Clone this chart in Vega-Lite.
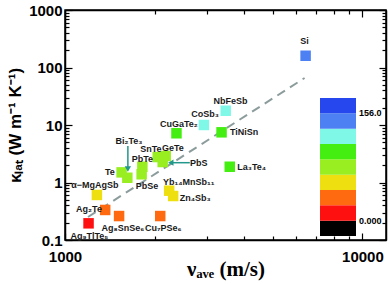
{
  "$schema": "https://vega.github.io/schema/vega-lite/v6.json",
  "width": 321,
  "height": 230,
  "autosize": "none",
  "padding": {"left": 65, "top": 10, "right": 4, "bottom": 44},
  "background": "white",
  "config": {"view": {"stroke": "black", "strokeWidth": 1.5}, "font": "Liberation Sans"},
  "datasets": {
    "pts": [
      {"name": "Si", "v": 6440, "k": 160, "z": 150},
      {"name": "NbFeSb", "v": 3470, "k": 17.7, "z": 122},
      {"name": "CoSb3", "v": 2930, "k": 10.0, "z": 122},
      {"name": "TiNiSn", "v": 3360, "k": 7.46, "z": 100},
      {"name": "CuGaTe2", "v": 2370, "k": 7.18, "z": 100},
      {"name": "La3Te4", "v": 3580, "k": 1.88, "z": 100},
      {"name": "SnTe", "v": 2050, "k": 2.77, "z": 78},
      {"name": "GeTe", "v": 2180, "k": 2.89, "z": 78},
      {"name": "PbS", "v": 2130, "k": 2.27, "z": 78},
      {"name": "PbTe", "v": 1820, "k": 1.88, "z": 78},
      {"name": "PbSe", "v": 1810, "k": 1.39, "z": 78},
      {"name": "Te", "v": 1550, "k": 1.5, "z": 78},
      {"name": "Bi2Te3", "v": 1620, "k": 1.21, "z": 78},
      {"name": "a-MgAgSb", "v": 1280, "k": 0.607, "z": 55},
      {"name": "Yb14MnSb11", "v": 2240, "k": 0.72, "z": 55},
      {"name": "Zn4Sb3", "v": 2310, "k": 0.582, "z": 55},
      {"name": "Ag2Te", "v": 1365, "k": 0.333, "z": 33},
      {"name": "Ag8SnSe6", "v": 1520, "k": 0.261, "z": 33},
      {"name": "Cu7PSe6", "v": 2090, "k": 0.261, "z": 33},
      {"name": "Ag9TlTe5", "v": 1200, "k": 0.195, "z": 11}
    ],
    "labels": [
      {"text": "Si", "v": 6390, "k": 289},
      {"text": "NbFeSb", "v": 3600, "k": 26.5},
      {"text": "CoSb₃", "v": 2960, "k": 15.5},
      {"text": "CuGaTe₂", "v": 2414, "k": 10.4},
      {"text": "TiNiSn", "v": 4000, "k": 7.55},
      {"text": "La₃Te₄", "v": 4240, "k": 1.88},
      {"text": "Bi₂Te₃", "v": 1640, "k": 5.27},
      {"text": "SnTe", "v": 1944, "k": 3.83},
      {"text": "GeTe", "v": 2304, "k": 3.98},
      {"text": "PbTe", "v": 1820, "k": 2.56},
      {"text": "PbS", "v": 2818, "k": 2.16},
      {"text": "Te", "v": 1416, "k": 1.52},
      {"text": "PbSe", "v": 1885, "k": 0.869},
      {"text": "α−MgAgSb", "v": 1261, "k": 0.905},
      {"text": "Yb₁₄MnSb₁₁", "v": 2607, "k": 1.03},
      {"text": "Zn₄Sb₃", "v": 2741, "k": 0.544},
      {"text": "Ag₂Te", "v": 1204, "k": 0.346},
      {"text": "Ag₈SnSe₆", "v": 1566, "k": 0.162},
      {"text": "Cu₇PSe₆", "v": 2141, "k": 0.162},
      {"text": "Ag₉TlTe₅", "v": 1208, "k": 0.1175}
    ],
    "fit": [
      {"v": 1195, "k": 0.251},
      {"v": 6390, "k": 65.7}
    ],
    "arrows": [
      {"v": 1627, "k": 4.31, "v2": 1627, "k2": 1.72},
      {"v": 2628, "k": 2.21, "v2": 2268, "k2": 2.21}
    ],
    "heads": [
      {"v": 1627, "k": 1.72, "dir": "down"},
      {"v": 2268, "k": 2.21, "dir": "left"}
    ]
  },
  "resolve": {"axis": {"x": "independent", "y": "independent"}},
  "layer": [
    {
      "data": {"name": "fit"},
      "mark": {"type": "line", "strokeDash": [9, 6], "color": "#8c9c9c", "strokeWidth": 2},
      "encoding": {
        "x": {"field": "v", "type": "quantitative",
          "scale": {"type": "log", "domain": [1000, 12000], "nice": false},
          "axis": {"orient": "top", "values": [1000, 2000, 3000, 4000, 5000, 6000, 7000, 8000, 9000, 10000],
            "labels": false, "title": null, "grid": false, "domainColor": "black", "domainWidth": 1.5,
            "tickColor": "black", "tickWidth": 1.2,
            "tickSize": {"condition": {"test": "datum.value == 1000 || datum.value == 10000", "value": -7}, "value": -4}}},
        "y": {"field": "k", "type": "quantitative",
          "scale": {"type": "log", "domain": [0.1, 1000], "nice": false},
          "axis": {"orient": "right", "values": [0.1, 0.2, 0.3, 0.4, 0.5, 0.6, 0.7, 0.8, 0.9, 1, 2, 3, 4, 5, 6, 7, 8, 9, 10, 20, 30, 40, 50, 60, 70, 80, 90, 100, 200, 300, 400, 500, 600, 700, 800, 900, 1000],
            "labels": false, "title": null, "grid": false, "domainColor": "black", "domainWidth": 1.5,
            "tickColor": "black", "tickWidth": 1.2,
            "tickSize": {"condition": {"test": "datum.value == 0.1 || datum.value == 1 || datum.value == 10 || datum.value == 100 || datum.value == 1000", "value": -7}, "value": -4}}}
      }
    },
    {
      "data": {"name": "pts"},
      "mark": {"type": "square", "size": 110, "opacity": 1},
      "encoding": {
        "x": {"field": "v", "type": "quantitative",
          "scale": {"type": "log", "domain": [1000, 12000], "nice": false},
          "axis": {"orient": "bottom", "values": [1000, 2000, 3000, 4000, 5000, 6000, 7000, 8000, 9000, 10000],
            "format": "~g",
            "labelExpr": "datum.value == 1000 || datum.value == 10000 ? datum.label : ''",
            "labelFont": "Liberation Sans", "labelFontSize": 15, "labelFontWeight": "bold", "labelColor": "black",
            "labelPadding": 16, "labelFlush": false, "labelOverlap": false,
            "title": "νₐᵥₑ (m/s)", "titleFont": "Liberation Serif, Times New Roman, serif", "titleFontSize": 21, "titleFontWeight": "bold", "titleColor": "black", "titlePadding": -9,
            "grid": false, "domainColor": "black", "domainWidth": 1.5,
            "tickColor": "black", "tickWidth": 1.2,
            "tickSize": {"condition": {"test": "datum.value == 1000 || datum.value == 10000", "value": -7}, "value": -4}}},
        "y": {"field": "k", "type": "quantitative",
          "scale": {"type": "log", "domain": [0.1, 1000], "nice": false},
          "axis": {"orient": "left", "values": [0.1, 0.2, 0.3, 0.4, 0.5, 0.6, 0.7, 0.8, 0.9, 1, 2, 3, 4, 5, 6, 7, 8, 9, 10, 20, 30, 40, 50, 60, 70, 80, 90, 100, 200, 300, 400, 500, 600, 700, 800, 900, 1000],
            "format": "~g",
            "labelExpr": "datum.value == 0.1 || datum.value == 1 || datum.value == 10 || datum.value == 100 || datum.value == 1000 ? datum.label : ''",
            "labelFont": "Liberation Sans", "labelFontSize": 15, "labelFontWeight": "bold", "labelColor": "black",
            "labelPadding": 10, "labelFlush": false, "labelOverlap": false,
            "title": "κₗₐₜ (W m⁻¹ K⁻¹)", "titleFont": "Liberation Sans", "titleFontSize": 17, "titleFontWeight": "bold", "titleColor": "black", "titlePadding": 4,
            "grid": false, "domainColor": "black", "domainWidth": 1.5,
            "tickColor": "black", "tickWidth": 1.2,
            "tickSize": {"condition": {"test": "datum.value == 0.1 || datum.value == 1 || datum.value == 10 || datum.value == 100 || datum.value == 1000", "value": -7}, "value": -4}}},
        "color": {"field": "z", "type": "quantitative",
          "scale": {"type": "threshold",
            "domain": [0, 22.2857, 44.5714, 66.8571, 89.1429, 111.4286, 133.7143, 156],
            "range": ["#000000", "#ff1010", "#ff6a10", "#eee010", "#99ee22", "#44ee11", "#80f8e8", "#4d80f2", "#2646ee"]},
          "legend": {"type": "gradient", "orient": "none", "legendX": 255, "legendY": 88, "direction": "vertical",
            "gradientLength": 138, "gradientThickness": 36, "gradientStrokeWidth": 0, "title": null, "padding": 0,
            "labelExpr": "datum.value == 0 ? '0.000' : datum.value == 156 ? '156.0' : ''",
            "labelFont": "Liberation Sans", "labelFontSize": 9, "labelFontWeight": "bold",
            "labelColor": "black", "labelOffset": 3, "labelOverlap": false}}
      }
    },
    {
      "data": {"name": "labels"},
      "mark": {"type": "text", "font": "Liberation Sans", "fontSize": 9, "fontWeight": "bold", "color": "#1a1a1a", "align": "center", "baseline": "middle"},
      "encoding": {
        "x": {"field": "v", "type": "quantitative", "scale": {"type": "log", "domain": [1000, 12000], "nice": false}, "axis": null},
        "y": {"field": "k", "type": "quantitative", "scale": {"type": "log", "domain": [0.1, 1000], "nice": false}, "axis": null},
        "text": {"field": "text"}
      }
    },
    {
      "data": {"name": "arrows"},
      "mark": {"type": "rule", "color": "#23978a", "strokeWidth": 1.5},
      "encoding": {
        "x": {"field": "v", "type": "quantitative", "scale": {"type": "log", "domain": [1000, 12000], "nice": false}, "axis": null},
        "y": {"field": "k", "type": "quantitative", "scale": {"type": "log", "domain": [0.1, 1000], "nice": false}, "axis": null},
        "x2": {"field": "v2"},
        "y2": {"field": "k2"}
      }
    },
    {
      "data": {"name": "heads"},
      "mark": {"type": "point", "filled": true, "size": 40, "color": "#23978a", "opacity": 1},
      "encoding": {
        "x": {"field": "v", "type": "quantitative", "scale": {"type": "log", "domain": [1000, 12000], "nice": false}, "axis": null},
        "y": {"field": "k", "type": "quantitative", "scale": {"type": "log", "domain": [0.1, 1000], "nice": false}, "axis": null},
        "shape": {"field": "dir", "type": "nominal", "scale": {"domain": ["down", "left"], "range": ["triangle-down", "triangle-left"]}, "legend": null}
      }
    }
  ]
}
